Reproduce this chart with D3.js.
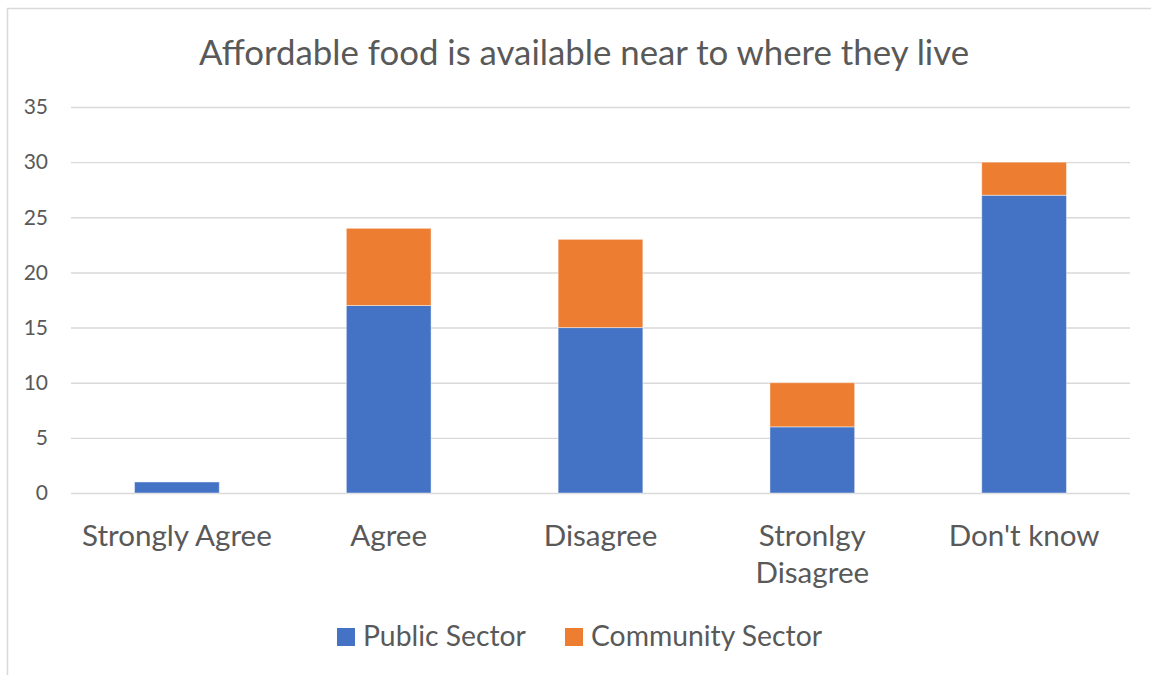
<!DOCTYPE html>
<html>
<head>
<meta charset="utf-8">
<script src="https://cdn.jsdelivr.net/npm/d3@7"></script>
<style>
  html, body { margin: 0; padding: 0; background: #fff; }
  svg { display: block; font-family: Lato, "Open Sans", sans-serif; }
</style>
</head>
<body>
<svg id="chart" width="1151" height="675"></svg>
<script>
// Survey responses by sector
const categories = ["Strongly Agree", "Agree", "Disagree", "Stronlgy Disagree", "Don't know"];
const publicSector = [1, 17, 15, 6, 27];
const communitySector = [0, 7, 8, 4, 3];
const seriesNames = ["Public Sector", "Community Sector"];
const yTicks = [0, 5, 10, 15, 20, 25, 30, 35];
const title = "Affordable food is available near to where they live";

const colors = ["#4472C4", "#ED7D31"];
const textColor = "#595959";
const gridColor = "#D9D9D9";

const svg = d3.select("#chart");
const plot = { left: 71, right: 1130, top: 107, bottom: 493 };

// chart frame (runs off the right and bottom edges)
svg.append("rect")
  .attr("x", 7.5).attr("y", 8.5)
  .attr("width", 1300).attr("height", 800)
  .attr("fill", "#fff")
  .attr("stroke", gridColor).attr("stroke-width", 1.5);

svg.append("text")
  .attr("x", 584).attr("y", 65)
  .attr("text-anchor", "middle")
  .attr("fill", textColor)
  .attr("font-size", 34.8)
  .text(title);

const x = d3.scaleBand()
  .domain(categories)
  .range([plot.left, plot.right])
  .paddingInner(0.6)
  .paddingOuter(0.3);

const y = d3.scaleLinear()
  .domain([0, 35])
  .range([plot.bottom, plot.top]);

// gridlines and y tick labels
const yAxis = d3.axisLeft(y)
  .tickValues(yTicks)
  .tickSize(-(plot.right - plot.left))
  .tickPadding(23);

const gy = svg.append("g")
  .attr("transform", `translate(${plot.left},0)`)
  .call(yAxis);
gy.select(".domain").remove();
gy.selectAll(".tick line")
  .attr("stroke", gridColor)
  .attr("stroke-width", 1.4);
gy.selectAll(".tick text")
  .attr("fill", textColor)
  .attr("font-size", 21)
  .attr("font-family", "Lato, sans-serif");

// stacked bars
const rows = categories.map((c, i) => ({
  category: c,
  "Public Sector": publicSector[i],
  "Community Sector": communitySector[i]
}));
const stacked = d3.stack().keys(seriesNames)(rows);

svg.append("g")
  .selectAll("g")
  .data(stacked)
  .join("g")
  .attr("fill", (d, i) => colors[i])
  .selectAll("rect")
  .data(d => d.filter(s => s[1] - s[0] > 0))
  .join("rect")
  .attr("x", d => x(d.data.category))
  .attr("width", x.bandwidth())
  .attr("y", d => y(d[1]))
  .attr("height", d => y(d[0]) - y(d[1]))
  .attr("stroke", "rgba(255,255,255,0.45)")
  .attr("stroke-width", 1);

// category labels, wrapped onto two lines where needed
const xAxis = d3.axisBottom(x).tickSize(0).tickPadding(0);
const gx = svg.append("g")
  .attr("transform", `translate(0,${plot.bottom})`)
  .call(xAxis);
gx.select(".domain").remove();
gx.selectAll(".tick text").remove();
gx.selectAll(".tick").each(function(d) {
  const lines = d === "Stronlgy Disagree" ? ["Stronlgy", "Disagree"] : [d];
  const t = d3.select(this).append("text")
    .attr("fill", textColor)
    .attr("font-size", 29.6)
    .attr("font-family", "Lato, sans-serif")
    .attr("text-anchor", "middle");
  lines.forEach((ln, k) => {
    t.append("tspan").attr("x", 0).attr("y", 53 + k * 37).text(ln);
  });
});

// legend
const legendX = [337, 565];
const legend = svg.append("g");
seriesNames.forEach((name, i) => {
  legend.append("rect")
    .attr("x", legendX[i]).attr("y", 628)
    .attr("width", 18).attr("height", 18)
    .attr("fill", colors[i]);
  legend.append("text")
    .attr("x", legendX[i] + 26).attr("y", 646)
    .attr("fill", textColor)
    .attr("font-size", 28.3)
    .text(name);
});
</script>
</body>
</html>
